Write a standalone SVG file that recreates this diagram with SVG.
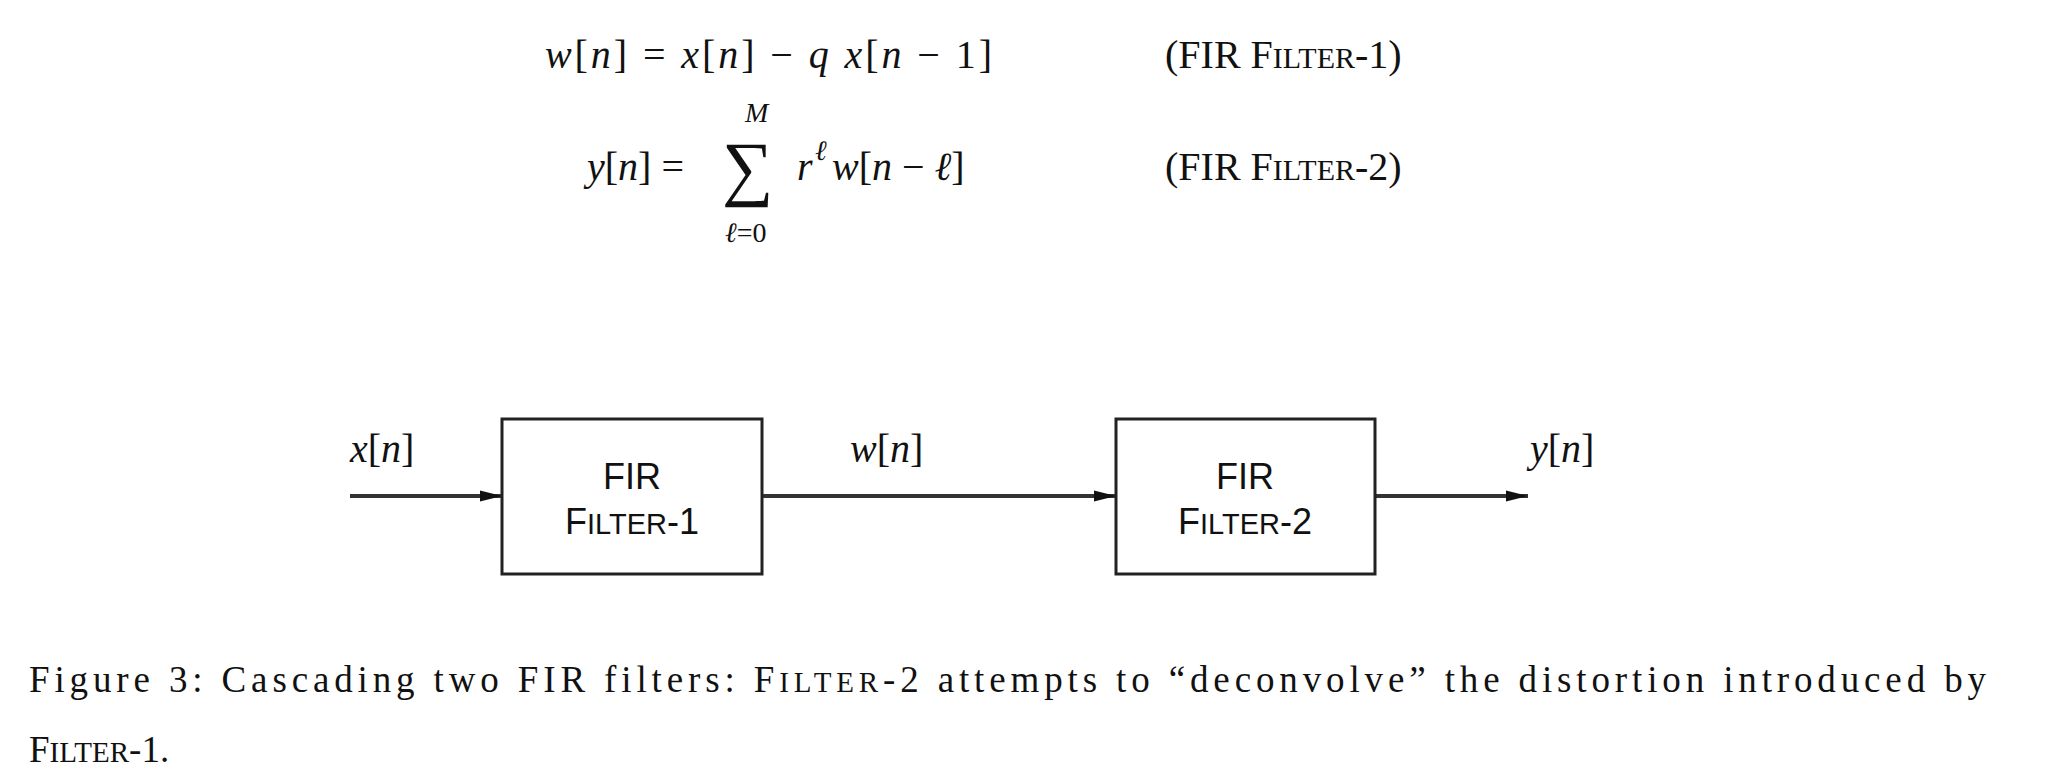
<svg xmlns="http://www.w3.org/2000/svg" width="2046" height="776" viewBox="0 0 2046 776">
<style>
.m{font-family:"Liberation Serif",serif;font-size:40px;fill:#111}
.i{font-style:italic}
.sc{font-size:30px}
.b{font-family:"Liberation Sans",sans-serif;font-size:36px;fill:#111;text-anchor:middle}
.bs{font-size:29px}
.cap{font-family:"Liberation Serif",serif;font-size:37px;fill:#111}
.box{fill:#fff;stroke:#222;stroke-width:3}
.ln{stroke:#333;stroke-width:4;fill:none}
</style>
<defs><marker id="ah" markerWidth="8" markerHeight="8" refX="7" refY="4" orient="auto" markerUnits="userSpaceOnUse" viewBox="0 0 8 8"><path d="M0,0 L8,4 L0,8 Z" fill="#111"/></marker>
<marker id="a" viewBox="0 0 10 10" refX="10" refY="5" markerWidth="22" markerHeight="14" markerUnits="userSpaceOnUse" orient="auto" preserveAspectRatio="none"><path d="M0,1 L10,5 L0,9 Z" fill="#111"/></marker></defs>
<g id="equations">
<text class="m" x="545" y="68" textLength="447"><tspan class="i">w</tspan>[<tspan class="i">n</tspan>] = <tspan class="i">x</tspan>[<tspan class="i">n</tspan>] − <tspan class="i">q x</tspan>[<tspan class="i">n</tspan> − 1]</text>
<text class="m" x="1165" y="68">(FIR F<tspan class="sc">ILTER</tspan>-1)</text>
<text class="m i" x="745" y="122" style="font-size:28px">M</text>
<text class="m" x="587" y="180"><tspan class="i">y</tspan>[<tspan class="i">n</tspan>] =</text>
<text class="m" x="722" y="192" style="font-size:72px">∑</text>
<text class="m" x="797" y="180"><tspan class="i">r</tspan></text>
<text class="m i" x="815" y="160" style="font-size:28px">ℓ</text>
<text class="m" x="832" y="180"><tspan class="i">w</tspan>[<tspan class="i">n</tspan> − <tspan class="i">ℓ</tspan>]</text>
<text class="m" x="725" y="242" style="font-size:28px"><tspan class="i">ℓ</tspan>=0</text>
<text class="m" x="1165" y="180">(FIR F<tspan class="sc">ILTER</tspan>-2)</text>
</g>
<g id="connectors">
<line class="ln" x1="350" y1="496" x2="502" y2="496" marker-end="url(#a)"/>
<line class="ln" x1="762" y1="496" x2="1116" y2="496" marker-end="url(#a)"/>
<line class="ln" x1="1375" y1="496" x2="1528" y2="496" marker-end="url(#a)"/>
<text class="m" x="350" y="462"><tspan class="i">x</tspan>[<tspan class="i">n</tspan>]</text>
<text class="m" x="850" y="462"><tspan class="i">w</tspan>[<tspan class="i">n</tspan>]</text>
<text class="m" x="1530" y="462"><tspan class="i">y</tspan>[<tspan class="i">n</tspan>]</text>
</g>
<g id="filter1">
<rect class="box" x="502" y="419" width="260" height="155"/>
<text class="b" x="632" y="489">FIR</text>
<text class="b" x="632" y="534">F<tspan class="bs">ILTER</tspan>-1</text>
</g>
<g id="filter2">
<rect class="box" x="1116" y="419" width="259" height="155"/>
<text class="b" x="1245" y="489">FIR</text>
<text class="b" x="1245" y="534">F<tspan class="bs">ILTER</tspan>-2</text>
</g>
<g id="caption">
<text class="cap" x="29" y="692" textLength="1957">Figure 3: Cascading two FIR filters: F<tspan style="font-size:29px">ILTER</tspan>-2 attempts to “deconvolve” the distortion introduced by</text>
<text class="cap" x="29" y="762">F<tspan style="font-size:29px">ILTER</tspan>-1.</text>
</g>
</svg>
